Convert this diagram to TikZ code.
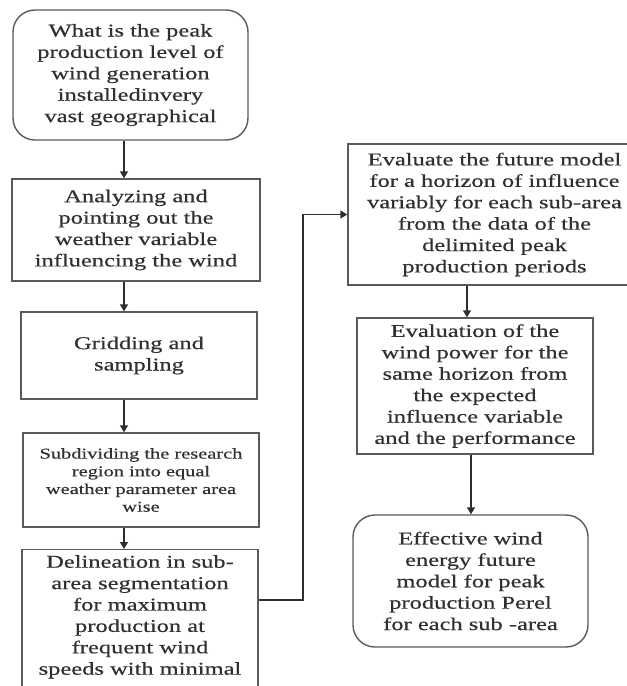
\documentclass[tikz,border=0pt]{standalone}
\usepackage{fontspec}
\setmainfont{Liberation Serif}[FakeStretch=1.36,FakeBold=0.5]
\usetikzlibrary{arrows.meta}
\definecolor{edge}{HTML}{5A5A5A}
\definecolor{ink}{HTML}{303030}
\definecolor{wire}{HTML}{2E2E2E}

\begin{document}
\begin{tikzpicture}[x=1pt,y=-1pt,
  txt/.style={inner sep=0pt, align=center, text=ink,
    font=\fontsize{18}{21.4}\selectfont},
  box/.style={txt, draw=edge, line width=1.4pt, fill=white},
  rbox/.style={box, rounded corners=22pt},
  small/.style={font=\fontsize{15}{17.7}\selectfont},
  arr/.style={draw=wire, line width=1.4pt,
    -{Triangle[width=8pt,length=7pt]}}]
\useasboundingbox (0,0) rectangle (627,686);
\clip (0,0) rectangle (627,686);

% left column
\node[rbox, minimum width=235pt, minimum height=130pt] (b1) at (130.5,75)
  {What is the peak\\production level of\\wind generation\\installedinvery\\vast geographical};
\node[box, minimum width=248pt, minimum height=102pt] (b2) at (136,230)
  {Analyzing and\\pointing out the\\weather variable\\influencing the wind};
\node[box, minimum width=236pt, minimum height=87pt] (b3) at (139,355.5)
  {Gridding and\\sampling};
\node[box, small, minimum width=236pt, minimum height=94pt] (b4) at (141,480)
  {Subdividing the research\\region into equal\\weather parameter area\\wise};
\node[box, minimum width=236pt, minimum height=170pt, anchor=north] (b5) at (140,549) {};
\node[txt, anchor=north] (b5t) at (140,555)
  {Delineation in sub-\\area segmentation\\for maximum\\production at\\frequent wind\\speeds with minimal};

% right column
\node[box, minimum width=293pt, minimum height=141pt] (b6) at (494.5,214.5)
  {Evaluate the future model\\for a horizon of influence\\variably for each sub-area\\from the data of the\\delimited peak\\production periods};
\node[box, minimum width=236pt, minimum height=136pt] (b7) at (475,386)
  {Evaluation of the\\wind power for the\\same horizon from\\the expected\\influence variable\\and the performance};
\node[rbox, minimum width=235pt, minimum height=132pt] (b8) at (470.5,581)
  {Effective wind\\energy future\\model for peak\\production Perel\\for each sub -area};

% connector columns
\coordinate (lx) at (124,0);
\coordinate (rx1) at (467,0);
\coordinate (rx2) at (471,0);
\coordinate (jn) at (303,600);

\draw[arr] (b1.south -| lx) -- (b2.north -| lx);
\draw[arr] (b2.south -| lx) -- (b3.north -| lx);
\draw[arr] (b3.south -| lx) -- (b4.north -| lx);
\draw[arr] (b4.south -| lx) -- (b5.north -| lx);
\draw[arr] (jn -| b5.east) -- (jn) |- (b6.west);
\draw[arr] (b6.south -| rx1) -- (b7.north -| rx1);
\draw[arr] (b7.south -| rx2) -- (b8.north -| rx2);
\end{tikzpicture}
\end{document}
